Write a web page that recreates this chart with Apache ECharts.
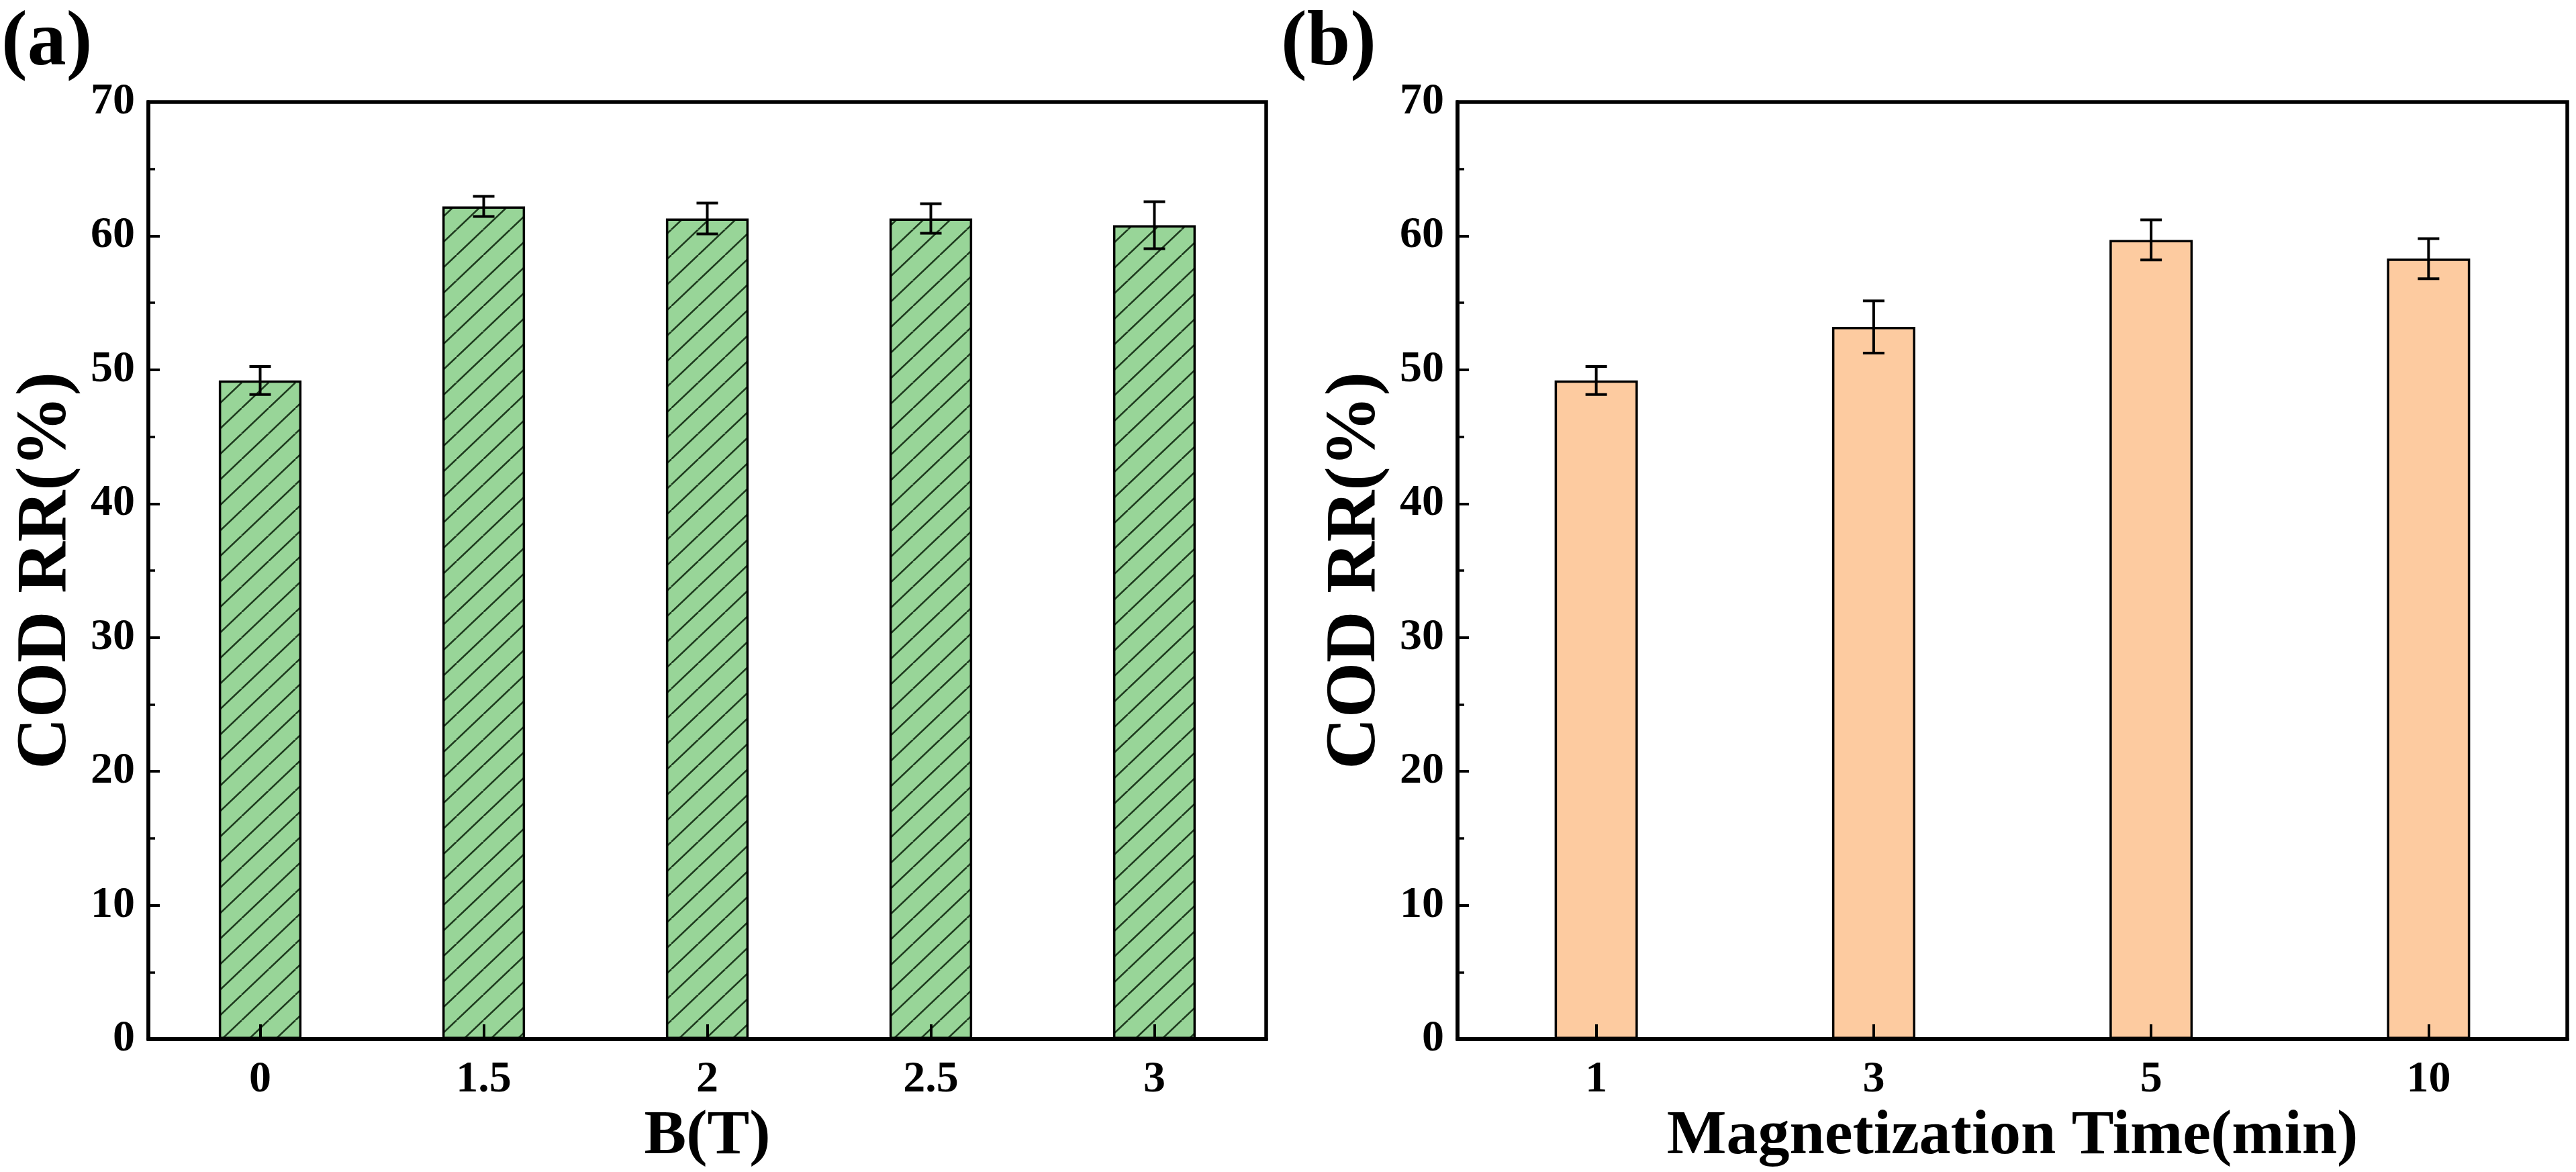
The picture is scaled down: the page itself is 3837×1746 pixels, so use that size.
<!DOCTYPE html>
<html>
<head>
<meta charset="utf-8">
<script src="https://cdn.jsdelivr.net/npm/echarts@6/dist/echarts.min.js"></script>
<style>
html,body{margin:0;padding:0;background:#fff;}
#chart{width:3837px;height:1746px;}
</style>
</head>
<body>
<div id="chart"></div>
<script>
// ---- data ----
const catsA = ['0', '1.5', '2', '2.5', '3'];
const valsA = [49.2, 62.2, 61.3, 61.3, 60.8];
const errA  = [1.05, 0.75, 1.15, 1.1, 1.75];

const catsB = ['1', '3', '5', '10'];
const valsB = [49.2, 53.2, 59.7, 58.3];
const errB  = [1.05, 1.95, 1.5, 1.5];

const yTicks = [0, 10, 20, 30, 40, 50, 60, 70];

const titleA = 'B(T)';
const titleB = 'Magnetization Time(min)';
const yTitle = 'COD RR(%)';

// ---- styles ----
const FONT = '"Liberation Serif", "Times New Roman", serif';
const GREEN = '#98d598';
const PEACH = '#fdcba0';

function hatchPattern() {
  const w = 40, h = 38;
  const c = document.createElement('canvas');
  c.width = w; c.height = h;
  const g = c.getContext('2d');
  g.fillStyle = GREEN;
  g.fillRect(0, 0, w, h);
  g.strokeStyle = '#1e3a1e';
  g.lineWidth = 2.6;
  for (let k = -1; k <= 1; k++) {
    g.beginPath();
    g.moveTo(k * w, h);
    g.lineTo((k + 1) * w, 0);
    g.stroke();
  }
  return c;
}

function errSeries(xi, yi, vals, errs) {
  const data = vals.map((v, i) => [i, v - errs[i], v + errs[i]]);
  return {
    type: 'custom',
    xAxisIndex: xi, yAxisIndex: yi,
    z: 10,
    data: data,
    renderItem: function (params, api) {
      const x = api.value(0);
      const lo = api.coord([x, api.value(1)]);
      const hi = api.coord([x, api.value(2)]);
      const half = 16;
      const st = { stroke: '#000', lineWidth: 4 };
      return {
        type: 'group',
        children: [
          { type: 'line', shape: { x1: hi[0], y1: hi[1], x2: lo[0], y2: lo[1] }, style: st },
          { type: 'line', shape: { x1: hi[0] - half, y1: hi[1], x2: hi[0] + half, y2: hi[1] }, style: st },
          { type: 'line', shape: { x1: lo[0] - half, y1: lo[1], x2: lo[0] + half, y2: lo[1] }, style: st }
        ]
      };
    }
  };
}

function xAxisCfg(gi, cats, name) {
  return {
    type: 'category', gridIndex: gi, data: cats,
    boundaryGap: true, z: 12,
    axisLine: { show: true, lineStyle: { color: '#000', width: 5.5 } },
    axisTick: { show: true, inside: true, alignWithLabel: true, length: 22, lineStyle: { color: '#000', width: 4 } },
    axisLabel: { margin: 28, fontFamily: FONT, fontWeight: 'bold', fontSize: 66, color: '#000' },
    splitLine: { show: false },
    name: name, nameLocation: 'middle', nameGap: 96,
    nameTextStyle: { fontFamily: FONT, fontWeight: 'bold', fontSize: 94, color: '#000' }
  };
}

function yAxisCfg(gi) {
  return {
    type: 'value', gridIndex: gi, min: yTicks[0], max: yTicks[yTicks.length - 1],
    interval: yTicks[1] - yTicks[0], z: 12,
    axisLine: { show: true, lineStyle: { color: '#000', width: 5.5 } },
    axisTick: { show: true, inside: true, length: 17, lineStyle: { color: '#000', width: 4 } },
    minorTick: { show: true, splitNumber: 2, length: 10, lineStyle: { color: '#000', width: 3.5 } },
    axisLabel: { margin: 20, fontFamily: FONT, fontWeight: 'bold', fontSize: 66, color: '#000' },
    splitLine: { show: false },
    name: yTitle, nameLocation: 'middle', nameGap: 98,
    nameTextStyle: { fontFamily: FONT, fontWeight: 'bold', fontSize: 106, color: '#000' }
  };
}

const chart = echarts.init(document.getElementById('chart'), null, { renderer: 'canvas' });

const option = {
  backgroundColor: '#fff',
  animation: false,
  grid: [
    { left: 221, top: 152, width: 1665, height: 1400, show: true, borderColor: '#000', borderWidth: 5.5, backgroundColor: 'transparent' },
    { left: 2171, top: 152, width: 1653, height: 1400, show: true, borderColor: '#000', borderWidth: 5.5, backgroundColor: 'transparent' }
  ],
  xAxis: [xAxisCfg(0, catsA, titleA), xAxisCfg(1, catsB, titleB)],
  yAxis: [yAxisCfg(0), yAxisCfg(1)],
  graphic: [
    { type: 'text', left: 2, top: 8, style: { text: '(a)', font: 'bold 116px ' + FONT, fill: '#000' } },
    { type: 'text', left: 1908, top: 8, style: { text: '(b)', font: 'bold 116px ' + FONT, fill: '#000' } }
  ],
  series: [
    {
      type: 'bar', xAxisIndex: 0, yAxisIndex: 0, data: valsA, barWidth: '37%',
      itemStyle: { color: { image: hatchPattern(), repeat: 'repeat' }, borderColor: '#000', borderWidth: 3.5 }
    },
    errSeries(0, 0, valsA, errA),
    {
      type: 'bar', xAxisIndex: 1, yAxisIndex: 1, data: valsB, barWidth: '30%',
      itemStyle: { color: PEACH, borderColor: '#000', borderWidth: 3.5 }
    },
    errSeries(1, 1, valsB, errB)
  ]
};
chart.setOption(option);
</script>
</body>
</html>
